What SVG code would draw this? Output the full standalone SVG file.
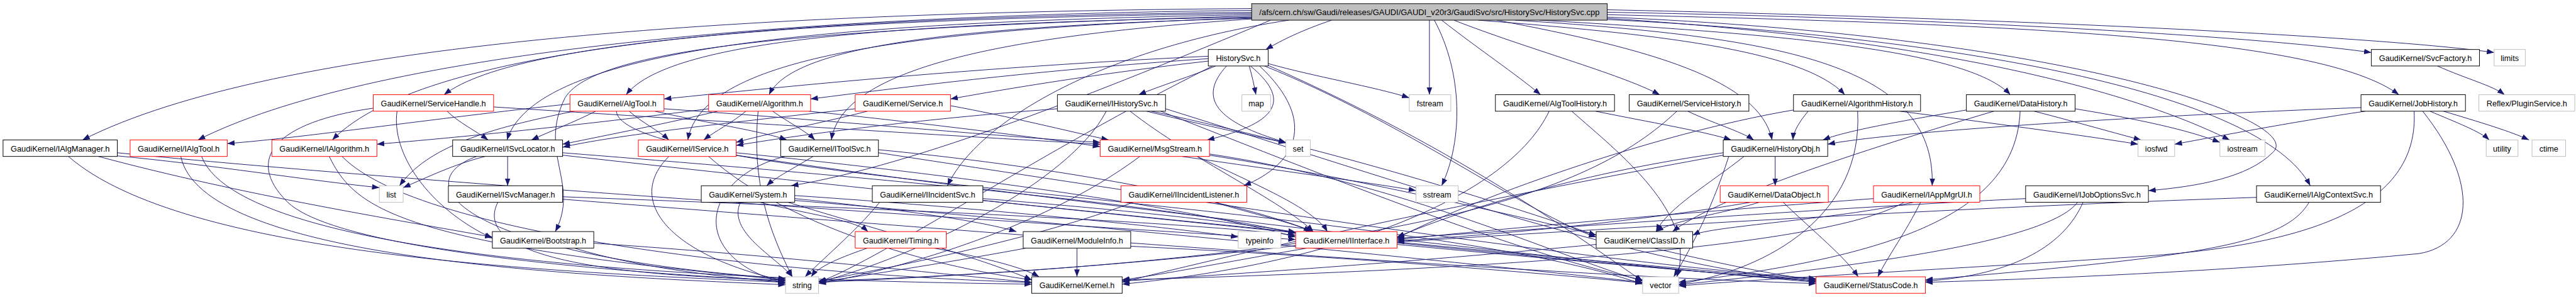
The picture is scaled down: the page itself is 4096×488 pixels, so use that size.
<svg xmlns="http://www.w3.org/2000/svg" width="4096" height="488" viewBox="0 0 4096 488">
<style>
#edges path{fill:none;stroke:#191970;stroke-width:1;marker-end:url(#arr)}
rect{stroke-width:1;fill:#fff}
rect.b{stroke:#000}
rect.r{stroke:#ff0000}
rect.g{stroke:#bfbfbf}
rect.t{stroke:#000;fill:#bfbfbf}
text{font-family:"Liberation Sans",Arial,sans-serif;font-size:13px;text-anchor:middle;fill:#000}
</style>
<defs>
<marker id="arr" viewBox="0 0 12 9" markerWidth="12" markerHeight="9" refX="12" refY="4.5" orient="auto" markerUnits="userSpaceOnUse"><path d="M0,0 L12,4.5 L0,9 z" fill="#191970"/></marker>
</defs>
<rect x="0" y="0" width="4096" height="488" fill="#fff" stroke="none"/>
<g transform="scale(0.97131)">
<g id="edges">
<path d="M2049,14 C1200,20 450,70 135,229"/>
<path d="M2049,17 C1250,25 600,90 324,229"/>
<path d="M2049,20 C1300,28 700,70 544,229"/>
<path d="M2049,22 C1400,30 850,60 727,155"/>
<path d="M2049,24 C1400,36 880,70 830,229"/>
<path d="M2049,26 C1400,45 980,70 925,160 C880,250 950,300 909,379"/>
<path d="M2049,28 C1500,38 1100,60 1025,155"/>
<path d="M2049,29 C1500,48 1150,90 1126,229"/>
<path d="M2049,30 C1600,42 1300,70 1259,155"/>
<path d="M2049,31 C1700,55 1380,100 1361,229"/>
<path d="M2080,33 C1800,150 1500,270 1295,304"/>
<path d="M2110,33 C1800,80 1600,200 1551,304"/>
<path d="M2180,33 C2130,50 2100,65 2072,81"/>
<path d="M2340,33 L2340,155"/>
<path d="M2348,33 C2395,120 2395,230 2360,304"/>
<path d="M2360,33 C2420,80 2480,120 2522,155"/>
<path d="M2380,33 C2500,80 2650,120 2717,155"/>
<path d="M2420,33 C2700,55 2950,80 3020,155"/>
<path d="M2450,33 C2700,80 2880,130 2901,229"/>
<path d="M2480,33 C2900,60 3170,100 3163,304"/>
<path d="M2520,33 C2900,55 3220,80 3291,155"/>
<path d="M2631,30 C3100,60 3450,130 3650,229"/>
<path d="M2631,32 C3200,60 3700,150 3782,304"/>
<path d="M2631,28 C3400,60 3780,200 3720,250 C3680,290 3600,305 3517,312"/>
<path d="M2631,24 C3300,40 3800,60 3927,155"/>
<path d="M2631,20 C3200,30 3700,60 3882,86"/>
<path d="M2631,16 C3300,30 3900,60 4083,86"/>
<path d="M1978,92 C1600,110 1300,140 1087,162"/>
<path d="M1978,96 C1700,115 1500,140 1327,162"/>
<path d="M1978,100 C1800,120 1650,145 1556,162"/>
<path d="M1990,108 C1950,125 1900,140 1864,155"/>
<path d="M2045,108 C2050,125 2053,140 2056,155"/>
<path d="M2008,108 C1960,160 1990,200 2105,233"/>
<path d="M2047,108 C2110,160 2100,200 1976,229"/>
<path d="M2076,104 C2150,125 2250,142 2307,160"/>
<path d="M2062,108 C2160,200 2120,270 2036,304"/>
<path d="M2070,108 C2300,200 2500,350 2613,388"/>
<path d="M2076,107 C2400,250 2600,400 2689,460"/>
<path d="M1985,108 C1700,250 1450,420 1340,462"/>
<path d="M3990,108 C4040,130 4080,140 4100,155"/>
<path d="M732,182 C750,200 780,215 799,229"/>
<path d="M650,182 C640,250 700,340 806,390"/>
<path d="M808,175 C1200,200 1600,225 1801,236"/>
<path d="M611,177 C450,200 400,260 470,330 C540,400 900,440 1286,460"/>
<path d="M933,170 C700,195 500,225 372,235"/>
<path d="M975,182 C940,200 900,215 870,229"/>
<path d="M1030,182 C1050,200 1080,215 1095,229"/>
<path d="M1072,182 C1150,200 1250,215 1288,229"/>
<path d="M940,182 C800,210 700,240 654,304"/>
<path d="M1087,178 C1400,200 1650,225 1801,233"/>
<path d="M1009,182 C1020,300 2300,330 2689,465"/>
<path d="M1160,178 C950,205 750,225 617,236"/>
<path d="M1221,182 C1200,200 1170,215 1152,229"/>
<path d="M1265,182 C1290,200 1320,215 1334,229"/>
<path d="M1175,182 C1100,200 1000,220 921,236"/>
<path d="M1324,182 C1500,200 1700,225 1801,240"/>
<path d="M1241,182 C1230,300 1260,380 1297,453"/>
<path d="M1400,178 C1200,200 1000,222 921,241"/>
<path d="M1420,182 C1350,200 1250,220 1205,233"/>
<path d="M1556,173 C1650,190 1750,215 1815,229"/>
<path d="M1731,178 C1500,195 1300,222 1205,238"/>
<path d="M1811,182 C1750,300 1500,420 1340,462"/>
<path d="M1877,182 C1950,200 2050,222 2105,234"/>
<path d="M1885,182 C2200,250 2450,330 2613,385"/>
<path d="M1850,182 C1950,260 2100,330 2150,379"/>
<path d="M1900,182 C2200,300 2500,420 2689,458"/>
<path d="M1908,178 C2300,300 2700,440 2973,460"/>
<path d="M831,256 L831,304"/>
<path d="M794,256 C740,270 700,290 660,307"/>
<path d="M780,256 C660,300 760,420 1286,456"/>
<path d="M921,250 C1300,280 1900,330 2121,382"/>
<path d="M921,254 C1600,330 2500,420 2973,458"/>
<path d="M1095,256 C1020,330 1100,420 1286,460"/>
<path d="M1205,250 C1600,290 1950,340 2121,388"/>
<path d="M1160,256 C1300,380 1550,440 1689,458"/>
<path d="M1205,254 C1800,340 2600,430 2973,462"/>
<path d="M1331,256 C1300,275 1270,290 1255,304"/>
<path d="M1285,256 C1150,290 1120,420 1286,464"/>
<path d="M1438,245 C1700,270 2000,320 2150,379"/>
<path d="M1438,250 C1900,320 2600,430 2973,456"/>
<path d="M191,255 C350,270 500,295 621,307"/>
<path d="M161,256 C400,320 650,360 806,388"/>
<path d="M112,256 C300,420 900,445 1286,462"/>
<path d="M192,250 C700,300 1600,360 2121,392"/>
<path d="M296,256 C330,420 900,450 1286,466"/>
<path d="M330,256 C400,440 1300,460 1689,465"/>
<path d="M539,256 C580,340 650,400 1286,458"/>
<path d="M560,256 C700,400 1400,455 1689,462"/>
<path d="M815,331 C780,400 900,450 1286,458"/>
<path d="M921,322 C1400,340 1900,360 2121,385"/>
<path d="M921,326 C1600,380 2500,450 2973,464"/>
<path d="M972,398 C1300,420 1550,450 1689,462"/>
<path d="M940,406 C1050,440 1200,455 1286,462"/>
<path d="M1212,331 C1190,380 1270,420 1297,453"/>
<path d="M1244,331 C1320,350 1400,360 1421,379"/>
<path d="M1301,325 C1450,340 1600,360 1664,379"/>
<path d="M1290,331 C1450,380 1600,420 1689,458"/>
<path d="M1301,320 C1600,340 1900,370 2027,388"/>
<path d="M1301,328 C1800,370 2400,430 2689,462"/>
<path d="M1529,406 C1600,420 1670,435 1701,453"/>
<path d="M1420,406 C1380,420 1340,435 1328,453"/>
<path d="M1763,406 L1763,453"/>
<path d="M1680,406 C1550,430 1420,450 1340,462"/>
<path d="M1851,403 C2200,420 2500,445 2689,463"/>
<path d="M1609,325 C1800,340 2000,360 2121,380"/>
<path d="M1440,331 C1400,380 1340,430 1318,453"/>
<path d="M1609,328 C2100,380 2700,440 2973,460"/>
<path d="M1988,331 C2050,350 2120,365 2146,379"/>
<path d="M1855,331 C1700,390 1450,440 1340,460"/>
<path d="M1866,256 C1700,380 1450,445 1340,464"/>
<path d="M1935,256 C2100,280 2250,300 2318,312"/>
<path d="M1960,256 C2050,300 2150,340 2173,379"/>
<path d="M1980,252 C2300,300 2550,420 2689,460"/>
<path d="M1980,254 C2400,320 2800,440 2973,458"/>
<path d="M2906,256 L2906,304"/>
<path d="M2855,256 C2800,300 2730,340 2711,379"/>
<path d="M2821,250 C2600,280 2400,340 2287,388"/>
<path d="M2830,256 C2800,350 2760,420 2740,453"/>
<path d="M2821,254 C2400,330 2000,420 1837,462"/>
<path d="M2612,182 C2700,200 2790,215 2834,229"/>
<path d="M2573,182 C2650,250 2780,350 2745,453"/>
<path d="M2536,182 C2470,320 2200,430 1837,465"/>
<path d="M2763,182 C2800,200 2850,215 2871,229"/>
<path d="M2745,182 C2600,320 2300,420 1340,462"/>
<path d="M2960,182 C2945,200 2936,215 2935,229"/>
<path d="M3041,182 C3050,350 2900,440 2748,465"/>
<path d="M3110,182 C3250,200 3400,220 3500,236"/>
<path d="M2936,180 C2700,220 2400,330 2287,390"/>
<path d="M3219,180 C3100,200 3020,215 2984,229"/>
<path d="M3264,182 C3000,260 2800,330 2738,379"/>
<path d="M3307,182 C3300,350 3100,420 2748,462"/>
<path d="M3330,182 C3400,200 3470,220 3505,229"/>
<path d="M3397,178 C3500,195 3580,212 3634,233"/>
<path d="M3865,176 C3500,190 3100,215 2992,236"/>
<path d="M3872,182 C3750,200 3620,225 3560,236"/>
<path d="M3978,182 C4020,200 4060,215 4075,229"/>
<path d="M4000,182 C4060,200 4110,215 4140,229"/>
<path d="M3952,182 C3960,330 3800,400 3500,420 C3200,440 2900,455 2748,468"/>
<path d="M3966,182 C4060,300 4050,400 3960,415 C3700,440 3400,455 3152,462"/>
<path d="M3401,331 C3350,400 3000,440 2748,466"/>
<path d="M3316,325 C3000,340 2600,370 2287,390"/>
<path d="M3410,331 C3380,400 3300,450 3152,460"/>
<path d="M3144,331 C3120,380 3090,420 3074,453"/>
<path d="M3067,325 C2800,345 2500,370 2287,392"/>
<path d="M3117,331 C3000,400 2500,440 1837,458"/>
<path d="M3133,331 C3000,360 2800,370 2771,385"/>
<path d="M2919,331 C2970,380 3020,420 3042,453"/>
<path d="M2880,331 C2820,350 2740,360 2711,379"/>
<path d="M2866,331 C2700,360 2450,385 2287,394"/>
<path d="M3694,323 C3200,340 2700,370 2287,396"/>
<path d="M3780,331 C3740,400 3600,420 3152,458"/>
<path d="M2613,400 C2300,430 2000,450 1837,460"/>
<path d="M2140,406 C2000,430 1900,450 1837,458"/>
<path d="M2287,400 C2600,430 2850,450 2973,460"/>
<path d="M2121,402 C1800,440 1500,455 1340,460"/>
</g>
<g id="nodes">
<g id="n_cpp"><rect class="t" x="2049" y="6" width="582" height="27"/><text x="2340" y="25" textLength="557" lengthAdjust="spacingAndGlyphs">/afs/cern.ch/sw/Gaudi/releases/GAUDI/GAUDI_v20r3/GaudiSvc/src/HistorySvc/HistorySvc.cpp</text></g>
<g id="n_HistorySvc_h"><rect class="b" x="1978" y="81" width="98" height="27"/><text x="2027" y="100" textLength="73" lengthAdjust="spacingAndGlyphs">HistorySvc.h</text></g>
<g id="n_SvcFactory"><rect class="b" x="3882" y="81" width="177" height="27"/><text x="3970.5" y="100" textLength="152" lengthAdjust="spacingAndGlyphs">GaudiKernel/SvcFactory.h</text></g>
<g id="n_limits"><rect class="g" x="4083" y="81" width="51" height="27"/><text x="4108.5" y="100">limits</text></g>
<g id="n_ServiceHandle"><rect class="r" x="611" y="155" width="197" height="27"/><text x="709.5" y="174" textLength="172" lengthAdjust="spacingAndGlyphs">GaudiKernel/ServiceHandle.h</text></g>
<g id="n_AlgTool"><rect class="r" x="933" y="155" width="154" height="27"/><text x="1010" y="174" textLength="129" lengthAdjust="spacingAndGlyphs">GaudiKernel/AlgTool.h</text></g>
<g id="n_Algorithm"><rect class="r" x="1160" y="155" width="167" height="27"/><text x="1243.5" y="174" textLength="142" lengthAdjust="spacingAndGlyphs">GaudiKernel/Algorithm.h</text></g>
<g id="n_Service"><rect class="r" x="1400" y="155" width="156" height="27"/><text x="1478" y="174" textLength="131" lengthAdjust="spacingAndGlyphs">GaudiKernel/Service.h</text></g>
<g id="n_IHistorySvc"><rect class="b" x="1731" y="155" width="177" height="27"/><text x="1819.5" y="174" textLength="152" lengthAdjust="spacingAndGlyphs">GaudiKernel/IHistorySvc.h</text></g>
<g id="n_map"><rect class="g" x="2033" y="155" width="47" height="27"/><text x="2056.5" y="174">map</text></g>
<g id="n_fstream"><rect class="g" x="2307" y="155" width="68" height="27"/><text x="2341" y="174">fstream</text></g>
<g id="n_AlgToolHistory"><rect class="b" x="2448" y="155" width="195" height="27"/><text x="2545.5" y="174" textLength="170" lengthAdjust="spacingAndGlyphs">GaudiKernel/AlgToolHistory.h</text></g>
<g id="n_ServiceHistory"><rect class="b" x="2667" y="155" width="196" height="27"/><text x="2765" y="174" textLength="171" lengthAdjust="spacingAndGlyphs">GaudiKernel/ServiceHistory.h</text></g>
<g id="n_AlgorithmHistory"><rect class="b" x="2936" y="155" width="208" height="27"/><text x="3040" y="174" textLength="183" lengthAdjust="spacingAndGlyphs">GaudiKernel/AlgorithmHistory.h</text></g>
<g id="n_DataHistory"><rect class="b" x="3219" y="155" width="178" height="27"/><text x="3308" y="174" textLength="153" lengthAdjust="spacingAndGlyphs">GaudiKernel/DataHistory.h</text></g>
<g id="n_JobHistory"><rect class="b" x="3865" y="155" width="171" height="27"/><text x="3950.5" y="174" textLength="146" lengthAdjust="spacingAndGlyphs">GaudiKernel/JobHistory.h</text></g>
<g id="n_PluginService"><rect class="g" x="4058" y="155" width="157" height="27"/><text x="4136.5" y="174" textLength="132" lengthAdjust="spacingAndGlyphs">Reflex/PluginService.h</text></g>
<g id="n_IAlgManager"><rect class="b" x="5" y="229" width="187" height="27"/><text x="98.5" y="248" textLength="162" lengthAdjust="spacingAndGlyphs">GaudiKernel/IAlgManager.h</text></g>
<g id="n_IAlgTool"><rect class="r" x="213" y="229" width="159" height="27"/><text x="292.5" y="248" textLength="134" lengthAdjust="spacingAndGlyphs">GaudiKernel/IAlgTool.h</text></g>
<g id="n_IAlgorithm"><rect class="r" x="445" y="229" width="172" height="27"/><text x="531" y="248" textLength="147" lengthAdjust="spacingAndGlyphs">GaudiKernel/IAlgorithm.h</text></g>
<g id="n_ISvcLocator"><rect class="b" x="741" y="229" width="180" height="27"/><text x="831" y="248" textLength="155" lengthAdjust="spacingAndGlyphs">GaudiKernel/ISvcLocator.h</text></g>
<g id="n_IService"><rect class="r" x="1045" y="229" width="160" height="27"/><text x="1125" y="248" textLength="135" lengthAdjust="spacingAndGlyphs">GaudiKernel/IService.h</text></g>
<g id="n_IToolSvc"><rect class="b" x="1278" y="229" width="160" height="27"/><text x="1358" y="248" textLength="135" lengthAdjust="spacingAndGlyphs">GaudiKernel/IToolSvc.h</text></g>
<g id="n_MsgStream"><rect class="r" x="1801" y="229" width="179" height="27"/><text x="1890.5" y="248" textLength="154" lengthAdjust="spacingAndGlyphs">GaudiKernel/MsgStream.h</text></g>
<g id="n_set"><rect class="g" x="2105" y="229" width="40" height="27"/><text x="2125" y="248">set</text></g>
<g id="n_HistoryObj"><rect class="b" x="2821" y="229" width="171" height="27"/><text x="2906.5" y="248" textLength="146" lengthAdjust="spacingAndGlyphs">GaudiKernel/HistoryObj.h</text></g>
<g id="n_iosfwd"><rect class="g" x="3500" y="229" width="60" height="27"/><text x="3530" y="248">iosfwd</text></g>
<g id="n_iostream"><rect class="g" x="3634" y="229" width="74" height="27"/><text x="3671" y="248">iostream</text></g>
<g id="n_utility"><rect class="g" x="4070" y="229" width="52" height="27"/><text x="4096" y="248">utility</text></g>
<g id="n_ctime"><rect class="g" x="4145" y="229" width="55" height="27"/><text x="4172.5" y="248">ctime</text></g>
<g id="n_list"><rect class="g" x="621" y="304" width="39" height="27"/><text x="640.5" y="323">list</text></g>
<g id="n_ISvcManager"><rect class="b" x="734" y="304" width="187" height="27"/><text x="827.5" y="323" textLength="162" lengthAdjust="spacingAndGlyphs">GaudiKernel/ISvcManager.h</text></g>
<g id="n_System"><rect class="b" x="1148" y="304" width="153" height="27"/><text x="1224.5" y="323" textLength="128" lengthAdjust="spacingAndGlyphs">GaudiKernel/System.h</text></g>
<g id="n_IIncidentSvc"><rect class="b" x="1428" y="304" width="181" height="27"/><text x="1518.5" y="323" textLength="156" lengthAdjust="spacingAndGlyphs">GaudiKernel/IIncidentSvc.h</text></g>
<g id="n_IIncidentListener"><rect class="r" x="1835" y="304" width="206" height="27"/><text x="1938" y="323" textLength="181" lengthAdjust="spacingAndGlyphs">GaudiKernel/IIncidentListener.h</text></g>
<g id="n_sstream"><rect class="g" x="2318" y="304" width="69" height="27"/><text x="2352.5" y="323">sstream</text></g>
<g id="n_DataObject"><rect class="r" x="2816" y="304" width="177" height="27"/><text x="2904.5" y="323" textLength="152" lengthAdjust="spacingAndGlyphs">GaudiKernel/DataObject.h</text></g>
<g id="n_IAppMgrUI"><rect class="r" x="3067" y="304" width="174" height="27"/><text x="3154" y="323" textLength="149" lengthAdjust="spacingAndGlyphs">GaudiKernel/IAppMgrUI.h</text></g>
<g id="n_IJobOptionsSvc"><rect class="b" x="3316" y="304" width="201" height="27"/><text x="3416.5" y="323" textLength="176" lengthAdjust="spacingAndGlyphs">GaudiKernel/IJobOptionsSvc.h</text></g>
<g id="n_IAlgContextSvc"><rect class="b" x="3694" y="304" width="203" height="27"/><text x="3795.5" y="323" textLength="178" lengthAdjust="spacingAndGlyphs">GaudiKernel/IAlgContextSvc.h</text></g>
<g id="n_Bootstrap"><rect class="b" x="806" y="379" width="166" height="27"/><text x="889" y="398" textLength="141" lengthAdjust="spacingAndGlyphs">GaudiKernel/Bootstrap.h</text></g>
<g id="n_Timing"><rect class="r" x="1400" y="379" width="149" height="27"/><text x="1474.5" y="398" textLength="124" lengthAdjust="spacingAndGlyphs">GaudiKernel/Timing.h</text></g>
<g id="n_ModuleInfo"><rect class="b" x="1675" y="379" width="176" height="27"/><text x="1763" y="398" textLength="151" lengthAdjust="spacingAndGlyphs">GaudiKernel/ModuleInfo.h</text></g>
<g id="n_typeinfo"><rect class="g" x="2027" y="379" width="70" height="27"/><text x="2062" y="398">typeinfo</text></g>
<g id="n_IInterface"><rect class="r" x="2121" y="379" width="166" height="27"/><text x="2204" y="398" textLength="141" lengthAdjust="spacingAndGlyphs">GaudiKernel/IInterface.h</text></g>
<g id="n_ClassID"><rect class="b" x="2613" y="379" width="158" height="27"/><text x="2692" y="398" textLength="133" lengthAdjust="spacingAndGlyphs">GaudiKernel/ClassID.h</text></g>
<g id="n_string"><rect class="g" x="1286" y="453" width="54" height="27"/><text x="1313" y="472">string</text></g>
<g id="n_Kernel"><rect class="b" x="1689" y="453" width="148" height="27"/><text x="1763" y="472" textLength="123" lengthAdjust="spacingAndGlyphs">GaudiKernel/Kernel.h</text></g>
<g id="n_vector"><rect class="g" x="2689" y="453" width="59" height="27"/><text x="2718.5" y="472">vector</text></g>
<g id="n_StatusCode"><rect class="r" x="2973" y="453" width="179" height="27"/><text x="3062.5" y="472" textLength="154" lengthAdjust="spacingAndGlyphs">GaudiKernel/StatusCode.h</text></g>
</g>
</g>
</svg>
